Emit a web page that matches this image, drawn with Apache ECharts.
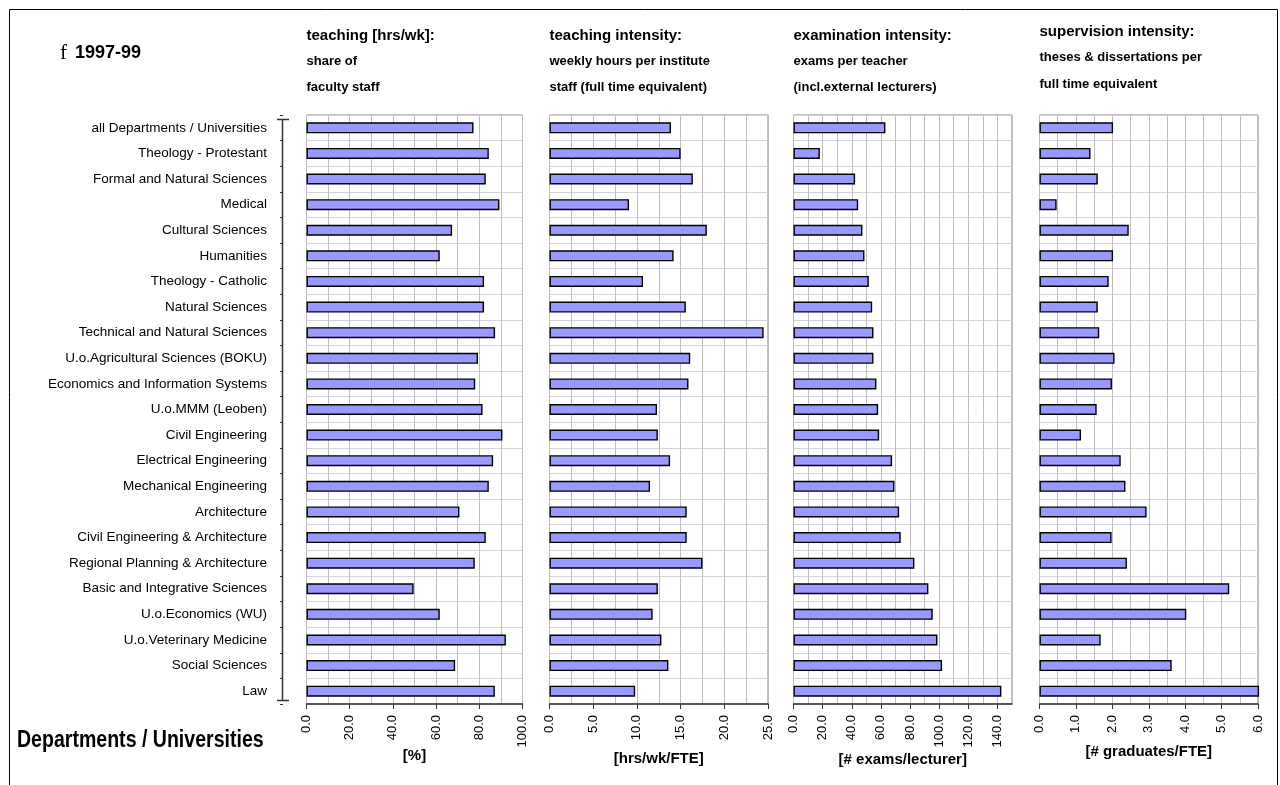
<!DOCTYPE html>
<html>
<head>
<meta charset="utf-8">
<script src="https://cdn.jsdelivr.net/npm/echarts/dist/echarts.min.js"></script>
<style>
  html, body { margin: 0; padding: 0; background: #ffffff; }
  #chart { width: 1280px; height: 785px; }
</style>
</head>
<body>
<div id="chart"></div>
<script>
// Departments / universities, top to bottom
const categories = [
  'all Departments / Universities',
  'Theology - Protestant',
  'Formal and Natural Sciences',
  'Medical',
  'Cultural Sciences',
  'Humanities',
  'Theology - Catholic',
  'Natural Sciences',
  'Technical and Natural Sciences',
  'U.o.Agricultural Sciences (BOKU)',
  'Economics and Information Systems',
  'U.o.MMM (Leoben)',
  'Civil Engineering',
  'Electrical Engineering',
  'Mechanical Engineering',
  'Architecture',
  'Civil Engineering & Architecture',
  'Regional Planning & Architecture',
  'Basic and Integrative Sciences',
  'U.o.Economics (WU)',
  'U.o.Veterinary Medicine',
  'Social Sciences',
  'Law'
];

// teaching [hrs/wk]: share of faculty staff [%]
const facultyShare = [77.3, 84.4, 83.0, 89.3, 67.4, 61.7, 82.2, 82.2, 87.3, 79.4, 78.1, 81.5,
                      90.7, 86.4, 84.4, 70.8, 83.0, 77.9, 49.6, 61.7, 92.3, 68.8, 87.2];

// teaching intensity [hrs/wk/FTE]
const teachingIntensity = [13.9, 15.0, 16.4, 9.1, 18.0, 14.2, 10.7, 15.6, 24.5, 16.1, 15.9, 12.3,
                           12.4, 13.8, 11.5, 15.7, 15.7, 17.5, 12.4, 11.8, 12.8, 13.6, 9.8];

// examination intensity [# exams/lecturer]
const examIntensity = [63.1, 18.1, 42.3, 44.4, 47.3, 48.7, 51.7, 54.0, 54.9, 54.9, 56.9, 58.1,
                       58.8, 67.7, 69.3, 72.5, 73.6, 83.0, 92.6, 95.6, 98.8, 102.0, 142.7];

// supervision intensity [# graduates/FTE]
const supervisionIntensity = [2.02, 1.40, 1.60, 0.47, 2.45, 2.02, 1.90, 1.60, 1.64, 2.06, 1.99, 1.57,
                              1.14, 2.23, 2.36, 2.94, 1.98, 2.40, 5.21, 4.03, 1.68, 3.63, 6.03];

// Panel headings and axis units
const panelTitles = [
  ['teaching [hrs/wk]:', 'share of', 'faculty staff'],
  ['teaching intensity:', 'weekly hours per institute', 'staff (full time equivalent)'],
  ['examination intensity:', 'exams per teacher', '(incl.external lecturers)'],
  ['supervision intensity:', 'theses & dissertations per', 'full time equivalent']
];
const axisUnits = ['[%]', '[hrs/wk/FTE]', '[# exams/lecturer]', '[# graduates/FTE]'];

// Axis ranges: max, labelled step, grid-line step
const axisMax   = [100, 25, 150, 6];
const majorStep = [20, 5, 20, 1];
const minorStep = [10, 2.5, 10, 0.5];

const seriesValues = [facultyShare, teachingIntensity, examIntensity, supervisionIntensity];

// Layout of the four plot panels (pixels)
const panelLeft  = [306.5, 549.5, 793.5, 1039.5];
const panelWidth = [216, 218.5, 218.5, 218.5];
const unitTextY  = [756, 759, 760, 752];
const PLOT_TOP = 115;
const PLOT_BOTTOM = 81;
const CATEGORY_AXIS_X = 283;

const SANS = '"Liberation Sans", Arial, sans-serif';

const chart = echarts.init(document.getElementById('chart'), null, { renderer: 'canvas' });

const grids = [], xAxes = [], yAxes = [], series = [], graphics = [];

seriesValues.forEach((vals, i) => {
  grids.push({
    left: panelLeft[i], width: panelWidth[i], top: PLOT_TOP, bottom: PLOT_BOTTOM,
    show: true, borderColor: '#808080', borderWidth: 1, backgroundColor: '#ffffff',
    containLabel: false, outerBoundsMode: 'none'
  });

  // grid-line axis
  xAxes.push({
    type: 'value', gridIndex: i, position: 'bottom',
    min: 0, max: axisMax[i], interval: minorStep[i],
    axisLine: { show: false }, axisTick: { show: false }, axisLabel: { show: false },
    splitLine: { show: true, lineStyle: { color: '#bdbdbd', width: 1 } }
  });
  // labelled axis
  xAxes.push({
    type: 'value', gridIndex: i, position: 'bottom',
    min: 0, max: axisMax[i], interval: majorStep[i],
    axisLine: { show: true, lineStyle: { color: '#333333', width: 1.5 } },
    axisTick: { show: true, length: 5, inside: false, lineStyle: { color: '#333333', width: 1 } },
    axisLabel: {
      show: true, rotate: 90, margin: 11, color: '#000000',
      fontFamily: SANS, fontSize: 13, showMaxLabel: axisMax[i] % majorStep[i] === 0,
      formatter: v => Number(v).toFixed(1)
    },
    splitLine: { show: false }
  });

  // row grid lines of each panel
  yAxes.push({
    type: 'category', gridIndex: i, data: categories, inverse: true,
    axisLine: { show: false }, axisTick: { show: false }, axisLabel: { show: false },
    splitLine: { show: true, lineStyle: { color: '#d4d4d4', width: 1 } }
  });

  series.push({
    type: 'bar', xAxisIndex: 2 * i, yAxisIndex: i, data: vals,
    barWidth: 11, clip: false, silent: true, animation: false,
    itemStyle: { color: '#9999ff', borderColor: '#000000', borderWidth: 1.4 }
  });

  const tx = panelLeft[i];
  const ty = i === 3 ? [33, 59, 86] : [37, 63, 89];
  panelTitles[i].forEach((line, k) => {
    graphics.push({
      type: 'text', left: tx, top: ty[k] - (k === 0 ? 9 : 8), z: 10,
      style: {
        text: line, fill: '#000000',
        font: 'bold ' + (k === 0 ? 15 : 13) + 'px ' + SANS
      }
    });
  });

  // unit caption under each panel
  graphics.push({
    type: 'text', z: 10, silent: true,
    x: panelLeft[i] + panelWidth[i] / 2, y: unitTextY[i],
    style: {
      text: axisUnits[i], fill: '#000000', align: 'center', verticalAlign: 'middle',
      font: 'bold 15px ' + SANS
    }
  });
});

// stand-alone category axis left of the first panel
grids.push({
  left: CATEGORY_AXIS_X, width: panelLeft[0] - CATEGORY_AXIS_X, top: PLOT_TOP, bottom: PLOT_BOTTOM,
  show: false, containLabel: false, outerBoundsMode: 'none'
});
xAxes.push({ type: 'value', gridIndex: 4, show: false, min: 0, max: 1 });
yAxes.push({
  type: 'category', gridIndex: 4, data: categories, inverse: true, position: 'left',
  axisLine: { show: false },
  axisTick: { show: true, length: 3, lineStyle: { color: '#333333' } },
  axisLabel: { show: true, color: '#000000', fontFamily: SANS, fontSize: 13.5, margin: 16 },
  splitLine: { show: false }
});

// category axis line with its end caps
const capTop = PLOT_TOP + 4.5, capBottom = 785 - PLOT_BOTTOM - 3.5;
graphics.push({
  type: 'line', z: 10, silent: true,
  shape: { x1: CATEGORY_AXIS_X - 0.5, y1: capTop, x2: CATEGORY_AXIS_X - 0.5, y2: capBottom },
  style: { stroke: '#333333', lineWidth: 1.5 }
});
[capTop, capBottom].forEach(y => {
  graphics.push({
    type: 'line', z: 10, silent: true,
    shape: { x1: CATEGORY_AXIS_X - 6, y1: y, x2: CATEGORY_AXIS_X + 6, y2: y },
    style: { stroke: '#333333', lineWidth: 1.5 }
  });
});

// outer frame
graphics.push({
  type: 'rect', z: 0, silent: true,
  shape: { x: 9.5, y: 9.5, width: 1268, height: 800 },
  style: { fill: null, stroke: '#000000', lineWidth: 1 }
});
// period heading
graphics.push({
  type: 'text', left: 60, top: 43, z: 10,
  style: { text: 'f', fill: '#000000', font: '21px "Liberation Serif", serif' }
});
graphics.push({
  type: 'text', left: 75, top: 44, z: 10,
  style: { text: '1997-99', fill: '#000000', font: 'bold 18px ' + SANS }
});
// category axis title
graphics.push({
  type: 'text', x: 17, y: 741, z: 10, scaleX: 0.85, originX: 0,
  style: {
    text: 'Departments / Universities', fill: '#000000', verticalAlign: 'middle',
    font: 'bold 23px ' + SANS
  }
});

chart.setOption({
  animation: false,
  backgroundColor: '#ffffff',
  grid: grids,
  xAxis: xAxes,
  yAxis: yAxes,
  series: series,
  graphic: graphics
});
</script>
</body>
</html>
